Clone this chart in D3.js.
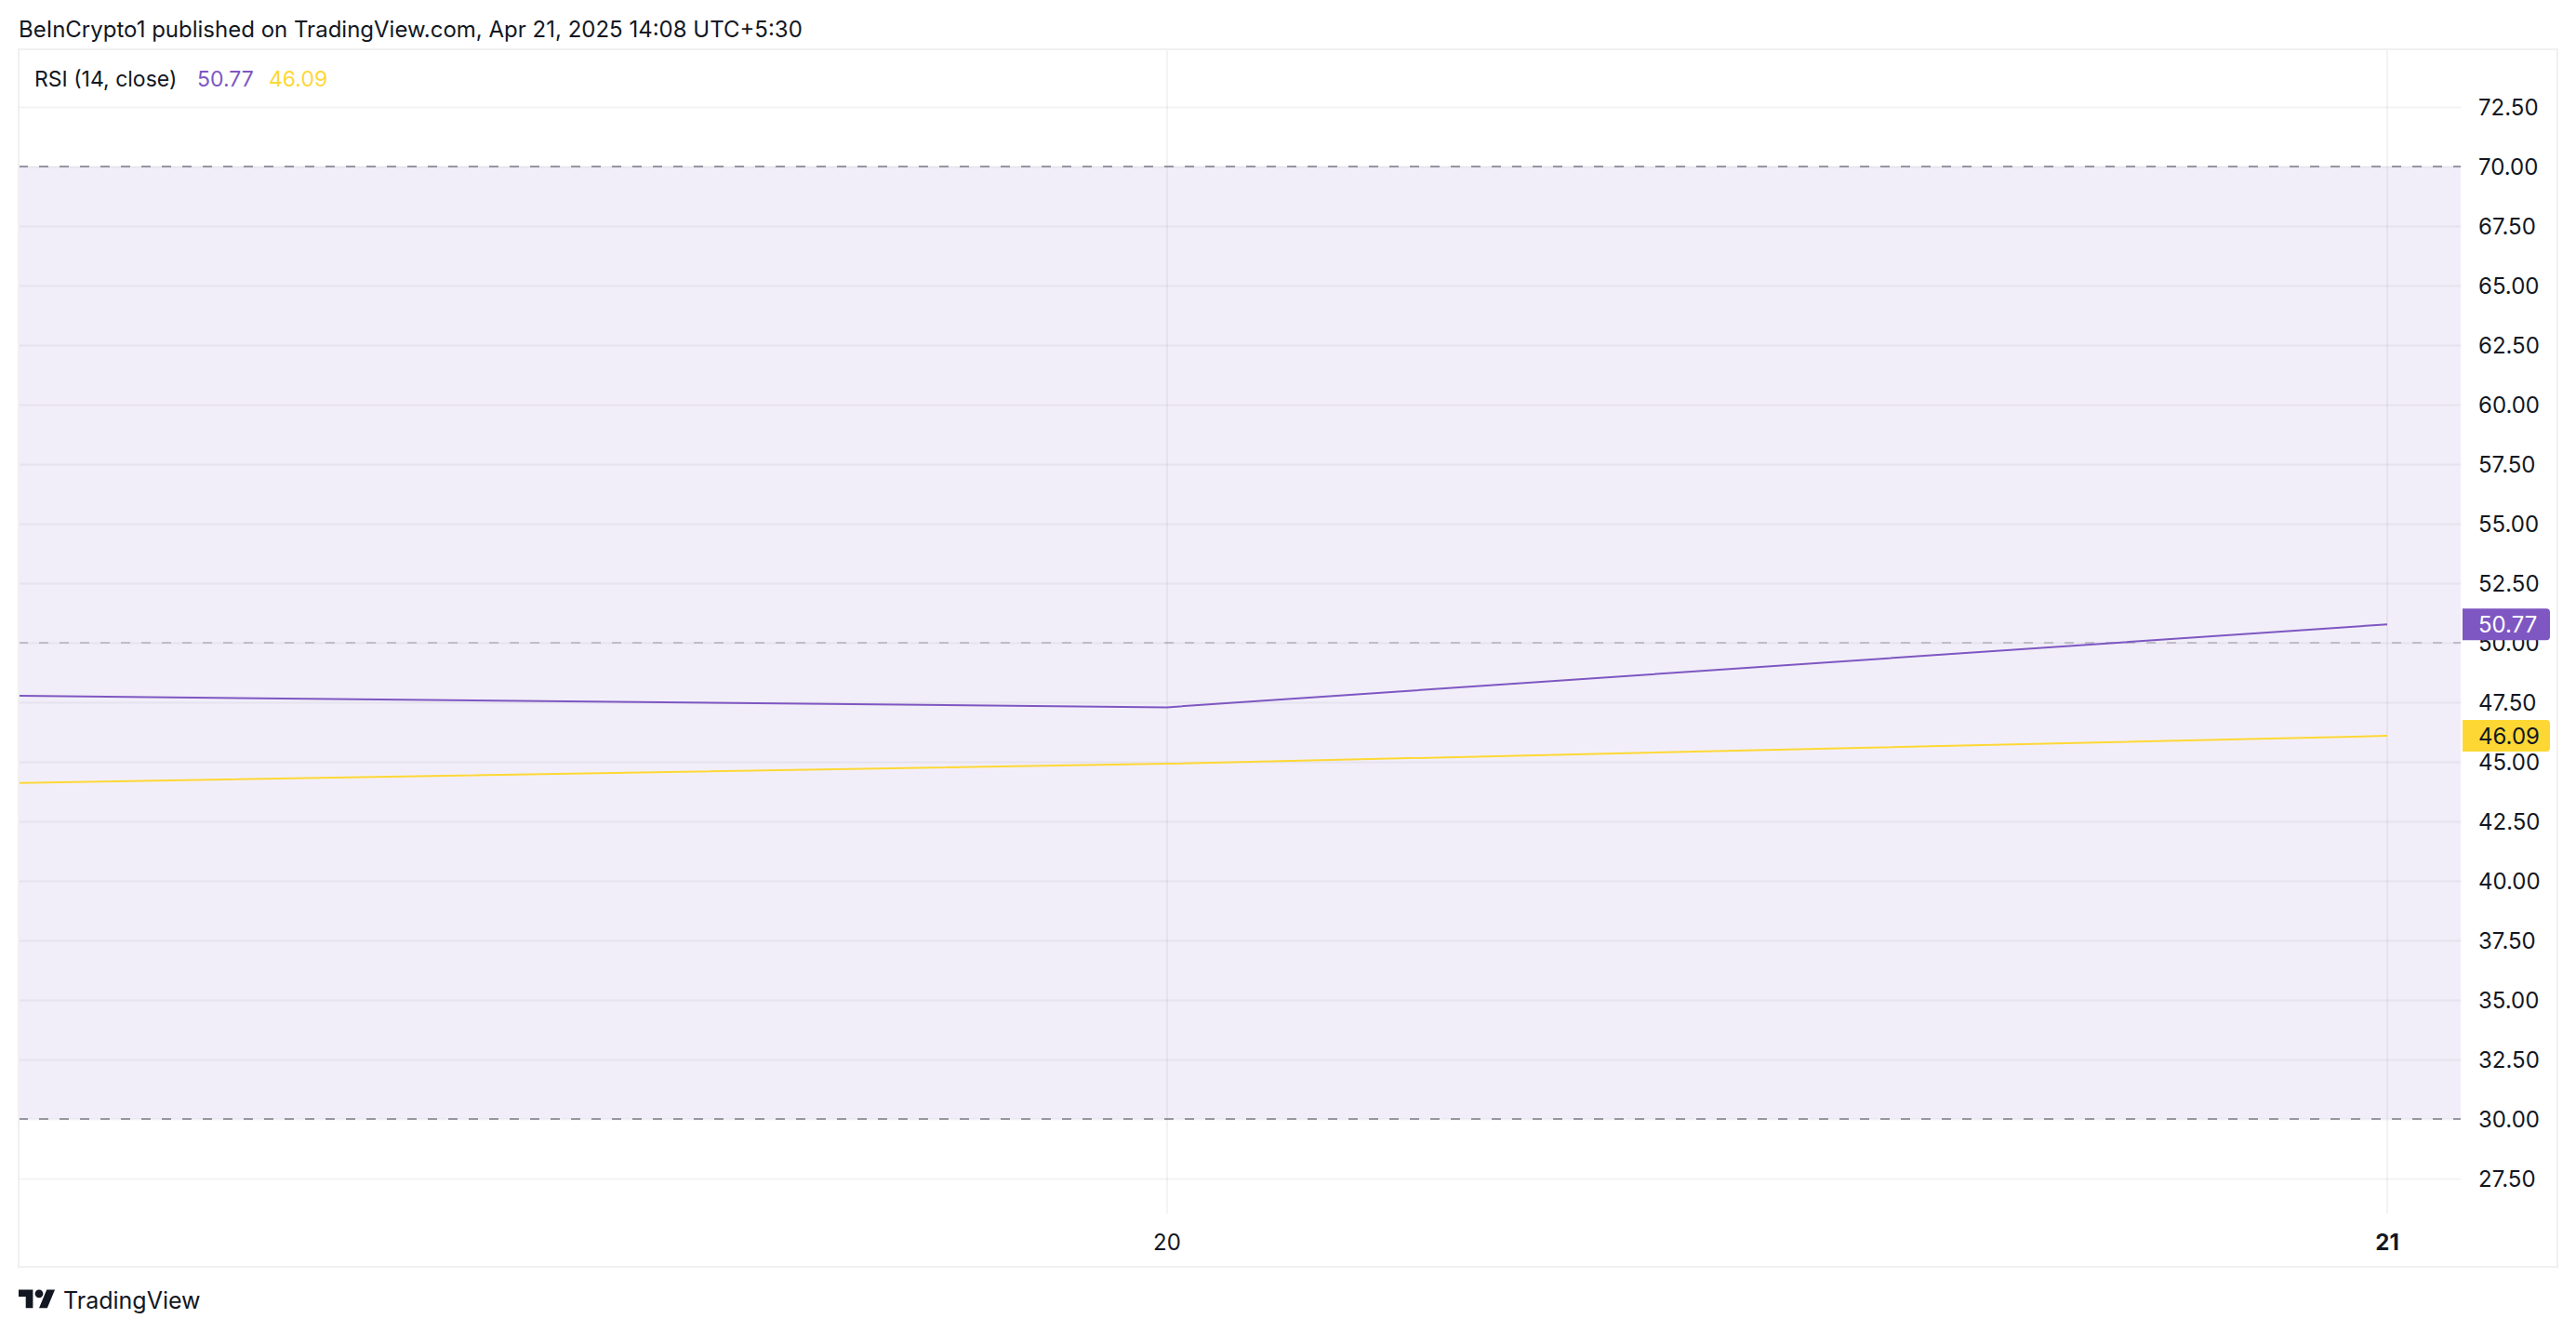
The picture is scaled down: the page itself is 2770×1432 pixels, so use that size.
<!DOCTYPE html>
<html>
<head>
<meta charset="utf-8">
<script src="https://cdn.jsdelivr.net/npm/d3@7"></script>
<style>
  html, body { margin: 0; padding: 0; background: #ffffff; }
  svg { display: block; }
  text { font-family: Inter, "Noto Sans", "Liberation Sans", sans-serif; }
</style>
</head>
<body>
<script>
// ---- data ----
const dates = ["2025-04-19", "2025-04-20", "2025-04-21"];
const rsiValues = [47.80, 47.29, 50.77];
const rsiMaValues = [44.06, 44.92, 46.09];
const yTickValues = [27.5, 30, 32.5, 35, 37.5, 40, 42.5, 45, 47.5, 50, 52.5, 55, 57.5, 60, 62.5, 65, 67.5, 70, 72.5];
const xTickDates = ["2025-04-20", "2025-04-21"];
const xTickLabels = ["20", "21"];
const bandLevels = [70, 50, 30];
const headerText = "BeInCrypto1 published on TradingView.com, Apr 21, 2025 14:08 UTC+5:30";
const legendTitle = "RSI (14, close)";
const lastRsi = "50.77";
const lastMa = "46.09";

// ---- layout ----
const W = 2770, H = 1432;
const panel = { x0: 20, y0: 53, x1: 2750, y1: 1362 };
const plot = { x0: 20, y0: 53, x1: 2646, y1: 1305 };
const purple = "#7E57C2", yellow = "#FDD835", ink = "#131722";

const parse = d3.timeParse("%Y-%m-%d");
const x = d3.scaleTime().domain([parse("2025-04-20"), parse("2025-04-21")]).range([1255, 2567]);
const y = d3.scaleLinear().domain([30, 70]).range([1203, 179]);

const svg = d3.select("body").append("svg").attr("width", W).attr("height", H);

// header
svg.append("text").attr("x", 20).attr("y", 40).attr("font-size", 24).attr("fill", ink).text(headerText);

// panel border
svg.append("rect").attr("x", panel.x0).attr("y", panel.y0)
  .attr("width", panel.x1 - panel.x0).attr("height", panel.y1 - panel.y0)
  .attr("fill", "#ffffff").attr("stroke", "#f0f0f0").attr("stroke-width", 2);

svg.append("defs").append("clipPath").attr("id", "clip")
  .append("rect").attr("x", plot.x0 + 1).attr("y", plot.y0 + 1)
  .attr("width", plot.x1 - plot.x0 - 1).attr("height", plot.y1 - plot.y0 - 1);

const g = svg.append("g").attr("clip-path", "url(#clip)");

// background band 30-70
g.append("rect").attr("x", plot.x0).attr("width", plot.x1 - plot.x0)
  .attr("y", y(70)).attr("height", y(30) - y(70))
  .attr("fill", purple).attr("fill-opacity", 0.1);

// horizontal grid
g.selectAll("line.hg").data(yTickValues).join("line").attr("class", "hg")
  .attr("x1", plot.x0).attr("x2", plot.x1)
  .attr("y1", d => Math.round(y(d)) + 0.5).attr("y2", d => Math.round(y(d)) + 0.5)
  .attr("stroke", "rgba(42,46,57,0.06)").attr("stroke-width", 2);

// vertical grid
g.selectAll("line.vg").data(xTickDates).join("line").attr("class", "vg")
  .attr("x1", d => x(parse(d))).attr("x2", d => x(parse(d)))
  .attr("y1", plot.y0).attr("y2", plot.y1)
  .attr("stroke", "rgba(42,46,57,0.06)").attr("stroke-width", 2);

// band lines
g.selectAll("line.band").data(bandLevels).join("line").attr("class", "band")
  .attr("x1", plot.x0).attr("x2", plot.x1)
  .attr("y1", d => y(d)).attr("y2", d => y(d))
  .attr("stroke", "#787B86").attr("stroke-opacity", d => d === 50 ? 0.5 : 1)
  .attr("stroke-width", 1.6).attr("stroke-dasharray", "10,12");

// lines
const line = d3.line().x(d => x(parse(d[0]))).y(d => y(d[1]));
g.append("path").datum(dates.map((d, i) => [d, rsiMaValues[i]]))
  .attr("d", line).attr("fill", "none").attr("stroke", yellow).attr("stroke-width", 2);
g.append("path").datum(dates.map((d, i) => [d, rsiValues[i]]))
  .attr("d", line).attr("fill", "none").attr("stroke", purple).attr("stroke-width", 2);

// y axis labels
svg.selectAll("text.yl").data(yTickValues).join("text").attr("class", "yl")
  .attr("x", 2665).attr("y", d => y(d)).attr("dy", "0.36em")
  .attr("font-size", 24).attr("fill", ink).text(d => d.toFixed(2));

// x axis labels
svg.selectAll("text.xl").data(xTickDates).join("text").attr("class", "xl")
  .attr("x", d => x(parse(d))).attr("y", 1335).attr("dy", "0.36em")
  .attr("text-anchor", "middle").attr("font-size", 24).attr("fill", ink)
  .attr("font-weight", (d, i) => i === xTickDates.length - 1 ? 700 : 400)
  .text((d, i) => xTickLabels[i]);

// price labels
function priceTag(val, txt, bg, fg) {
  const cy = y(val);
  const h = 34, x0 = 2648, x1 = 2742, r = 4;
  const top = cy - h / 2;
  svg.append("path")
    .attr("d", `M${x0},${top} H${x1 - r} Q${x1},${top} ${x1},${top + r} V${top + h - r} Q${x1},${top + h} ${x1 - r},${top + h} H${x0} Z`)
    .attr("fill", bg);
  svg.append("text").attr("x", 2665).attr("y", cy).attr("dy", "0.36em")
    .attr("font-size", 24).attr("fill", fg).text(txt);
}
priceTag(rsiValues[rsiValues.length - 1], lastRsi, purple, "#ffffff");
priceTag(rsiMaValues[rsiMaValues.length - 1], lastMa, yellow, ink);

// legend
const leg = svg.append("text").attr("x", 37).attr("y", 93).attr("font-size", 23).attr("fill", ink);
leg.append("tspan").text(legendTitle);
leg.append("tspan").attr("x", 212).attr("fill", purple).text(lastRsi);
leg.append("tspan").attr("x", 289).attr("fill", yellow).text(lastMa);

// TradingView logo
const logo = svg.append("g").attr("transform", "translate(20,1382) scale(1.1)").attr("fill", ink);
logo.append("path").attr("d", "M14 22H7V11H0V4h14v18zM28 22h-8l7.5-18h8L28 22z");
logo.append("circle").attr("cx", 20).attr("cy", 8).attr("r", 4);
svg.append("text").attr("x", 68).attr("y", 1407).attr("font-size", 25).attr("fill", ink).text("TradingView");
</script>
</body>
</html>
